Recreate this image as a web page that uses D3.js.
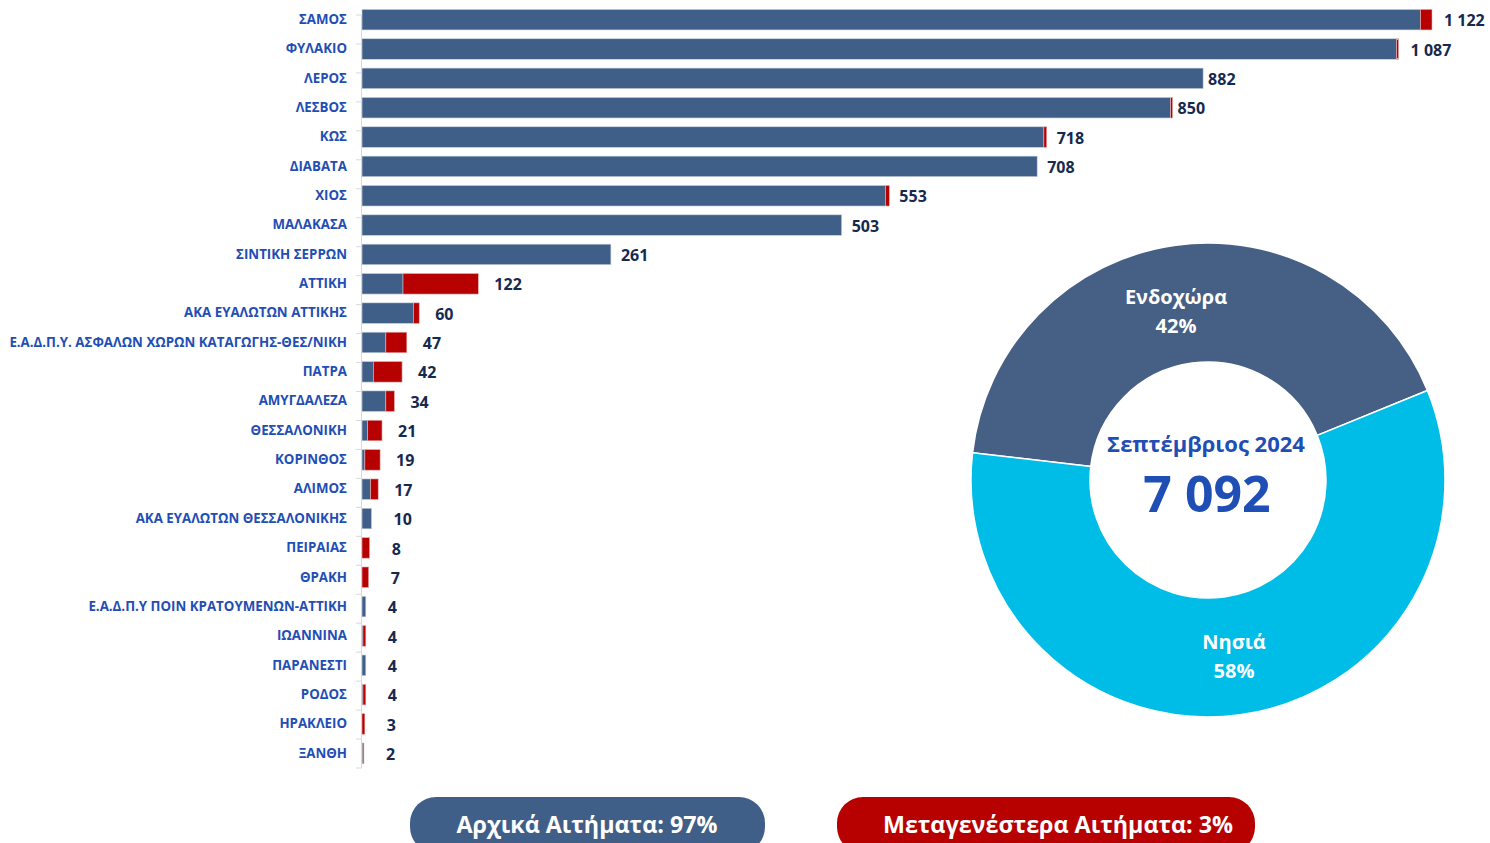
<!DOCTYPE html>
<html><head><meta charset="utf-8">
<script src="https://cdn.jsdelivr.net/npm/d3@7"></script>
<style>
html,body{margin:0;padding:0;background:#fff;}
svg{display:block;}
text{font-family:"Open Sans","Noto Sans",sans-serif;}
</style></head>
<body>
<svg id="c" width="1490" height="843"></svg>
<script>
const categories = ["ΣΑΜΟΣ","ΦΥΛΑΚΙΟ","ΛΕΡΟΣ","ΛΕΣΒΟΣ","ΚΩΣ","ΔΙΑΒΑΤΑ","ΧΙΟΣ","ΜΑΛΑΚΑΣΑ","ΣΙΝΤΙΚΗ ΣΕΡΡΩΝ","ΑΤΤΙΚΗ","ΑΚΑ ΕΥΑΛΩΤΩΝ ΑΤΤΙΚΗΣ","Ε.Α.Δ.Π.Υ. ΑΣΦΑΛΩΝ ΧΩΡΩΝ ΚΑΤΑΓΩΓΗΣ-ΘΕΣ/ΝΙΚΗ","ΠΑΤΡΑ","ΑΜΥΓΔΑΛΕΖΑ","ΘΕΣΣΑΛΟΝΙΚΗ","ΚΟΡΙΝΘΟΣ","ΑΛΙΜΟΣ","ΑΚΑ ΕΥΑΛΩΤΩΝ ΘΕΣΣΑΛΟΝΙΚΗΣ","ΠΕΙΡΑΙΑΣ","ΘΡΑΚΗ","Ε.Α.Δ.Π.Υ ΠΟΙΝ ΚΡΑΤΟΥΜΕΝΩΝ-ΑΤΤΙΚΗ","ΙΩΑΝΝΙΝΑ","ΠΑΡΑΝΕΣΤΙ","ΡΟΔΟΣ","ΗΡΑΚΛΕΙΟ","ΞΑΝΘΗ"];
const initialApps    = [1110,1085,882,848,715,708,549,503,261,43,54,25,12,25,6,3,9,10,0,0,4,1,4,1,0,1];
const subsequentApps = [12,2,0,2,3,0,4,0,0,79,6,22,30,9,15,16,8,0,8,7,0,3,0,3,3,1];
const donutLabels = ["Ενδοχώρα","Νησιά"];
const donutValues = [42,58];
const centerTitle = "Σεπτέμβριος 2024";
const centerTotal = "7 092";
const legendLabels = ["Αρχικά Αιτήματα: 97%","Μεταγενέστερα Αιτήματα: 3%"];

const BLUE = "#405F88", RED = "#B70000", LABEL = "#1F4EB4", VAL = "#16294F";
const svg = d3.select("#c");

// Bar chart
const x0 = 362;
const x = d3.scaleLinear().domain([0,1122]).range([x0, 1432]);
const y = d3.scaleBand().domain(categories).range([5,768]).paddingInner(0.3).paddingOuter(0.15);

const data = categories.map((c,i)=>({c, a:initialApps[i], b:subsequentApps[i], t:initialApps[i]+subsequentApps[i]}));

// axis
const axis = svg.append("g").attr("transform",`translate(${x0-1},0)`)
  .call(d3.axisLeft(y).tickSize(0).tickFormat(d=>d).tickPadding(14));
axis.select(".domain").remove();
axis.selectAll("text").attr("fill",LABEL).attr("font-size",13.3).attr("font-weight",700)
  .style("font-family",'"Open Sans","Noto Sans",sans-serif');
const g0 = svg.append("g");
g0.append("line").attr("x1",x0-0.5).attr("x2",x0-0.5).attr("y1",y.range()[0]+10).attr("y2",y.range()[1]).attr("stroke","#D9D9D9");
const bounds = d3.range(categories.length+1).map(i=>y.range()[0]+10+i*((y.range()[1]-y.range()[0]-10)/categories.length));
g0.selectAll("line.tk").data(bounds).join("line").attr("class","tk")
  .attr("x1",x0-6).attr("x2",x0-0.5).attr("y1",d=>d).attr("y2",d=>d).attr("stroke","#D9D9D9");

const rows = svg.append("g").selectAll("g").data(data).join("g");
rows.append("rect").attr("x",x(0)).attr("y",d=>y(d.c)).attr("height",y.bandwidth())
  .attr("width",d=>x(d.a)-x(0)).attr("fill",BLUE).attr("stroke","#C9D3E0").attr("stroke-width",0.6);
rows.append("rect").attr("x",d=>x(d.a)).attr("y",d=>y(d.c)).attr("height",y.bandwidth())
  .attr("width",d=>x(d.a+d.b)-x(d.a)).attr("fill",RED).attr("stroke","#E6B0B0").attr("stroke-width",d=>d.b>0?0.6:0);
const off = t => t<15?22:(t<130?16:(t<800?10:(t<1000?5:12)));
rows.append("text").attr("x",d=>x(d.t)+off(d.t)).attr("y",d=>y(d.c)+y.bandwidth()/2+1)
  .attr("dy","0.35em").attr("fill",VAL).attr("font-size",16).attr("font-weight",700)
  .text(d=>d3.format(",")(d.t).replace(/,/g," "));

// Donut
const cx = 1208, cy = 480, R = 237, r = 118;
const pie = d3.pie().sort(null).startAngle(-83.4*Math.PI/180).endAngle((360-83.4)*Math.PI/180);
const arcs = pie(donutValues);
const arc = d3.arc().innerRadius(r).outerRadius(R);
const dg = svg.append("g").attr("transform",`translate(${cx},${cy})`);
const dcol = ["#465F84","#00BDE8"];
dg.selectAll("path").data(arcs).join("path").attr("d",arc).attr("fill",(d,i)=>dcol[i]).attr("stroke","#fff").attr("stroke-width",1.5);
const labPos = [[-32,-183],[26,162]];
arcs.forEach((a,i)=>{
  const t = dg.append("text").attr("text-anchor","middle").attr("fill","#fff").attr("font-size",20).attr("font-weight",700);
  t.append("tspan").attr("x",labPos[i][0]).attr("y",labPos[i][1]+7).text(donutLabels[i]);
  t.append("tspan").attr("x",labPos[i][0]).attr("y",labPos[i][1]+36).text(donutValues[i]+"%");
});
dg.append("text").attr("text-anchor","middle").attr("x",-2).attr("y",-28).attr("fill",LABEL)
  .attr("font-size",22).attr("font-weight",700).text(centerTitle);
dg.append("text").attr("text-anchor","middle").attr("x",-1).attr("y",32).attr("fill",LABEL)
  .attr("font-size",50).attr("font-weight",700).text(centerTotal);

// Legend pills
const pills = [{x:410,w:355,c:BLUE,tx:587},{x:837,w:418,c:RED,tx:1058}];
pills.forEach((p,i)=>{
  svg.append("rect").attr("x",p.x).attr("y",797).attr("width",p.w).attr("height",56).attr("rx",26).attr("fill",p.c);
  svg.append("text").attr("x",p.tx).attr("y",833).attr("text-anchor","middle").attr("fill","#fff")
    .attr("font-size",23.3).attr("font-weight",700).style("font-family",'"Liberation Sans Narrow","Open Sans",sans-serif')
    .text(legendLabels[i]);
});
</script>
</body></html>
